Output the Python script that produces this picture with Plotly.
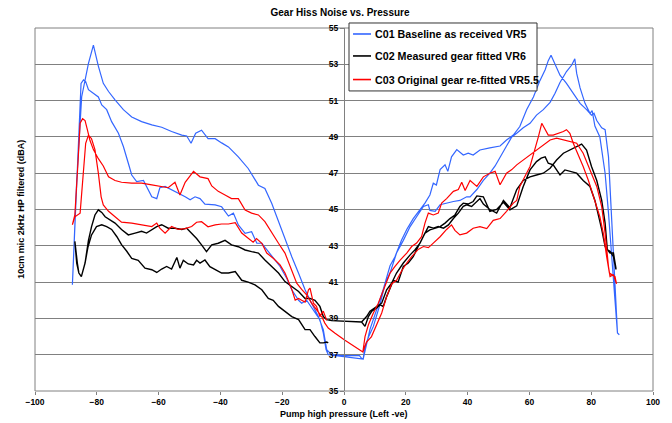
import plotly.graph_objects as go

# ---------------- data ----------------
title_text = "Gear Hiss Noise vs. Pressure"
x_title = "Pump high pressure (Left -ve)"
y_title = "10cm mic 2kHz HP filtered (dBA)"
series_names = ["C01 Baseline as received VR5",
                "C02 Measured gear fitted VR6",
                "C03 Original gear re-fitted VR5.5"]
series_colors = ["#3366FF", "#000000", "#FF0000"]

# C01 (blue)
c01_left_upper_x = [-87.9, -86.5, -84.9, -82.7, -81.1, -79.5, -77.9, -76.2, -74.1, -71.4, -68.7, -65.5, -62.2, -59.0,
                    -55.8, -52.5, -50.9, -49.5, -48.0, -46.1, -44.0, -41.7, -39.6, -37.4, -34.2, -31.0, -27.7, -25.6,
                    -23.4, -21.2, -19.1, -16.9, -14.7, -12.6, -10.5, -8.3, -6.7, -5.6, -4.0, 0.3, 5.0, 5.7, 6.2]
c01_left_upper_y = [40.85, 46.6, 51.2, 53.05, 54.06, 52.9, 51.95, 51.5, 51.04, 50.5, 50.1, 49.84, 49.66, 49.53,
                    49.3, 49.1, 49.05, 48.65, 49.2, 49.37, 48.9, 48.9, 48.67, 48.45, 47.9, 47.26, 46.34, 46.16,
                    45.34, 44.33, 43.32, 42.4, 41.49, 40.58, 39.84, 39.1, 38.38, 37.28, 37.0, 36.95, 36.95, 36.8, 36.76]
c01_right_a_x = [6.2, 8.4, 10.6, 12.7, 14.9, 16.5, 18.6, 20.3, 22.4, 24.6, 26.2, 27.8, 28.9, 29.9, 31.1, 32.7, 33.6,
                 34.8, 36.5, 38.6, 40.2, 41.8, 44.0, 47.2, 50.5, 52.6, 54.8, 56.9, 59.1, 61.3, 63.4, 65.1, 66.1, 67.0,
                 68.3, 69.9, 72.0, 74.2, 76.4, 78.5, 80.1, 80.9, 81.8, 83.4, 84.5, 85.6, 86.3, 87.2, 88.0, 88.5, 89.1]
c01_right_a_y = [36.76, 38.4, 39.5, 40.6, 41.9, 42.4, 43.3, 43.9, 44.5, 45.0, 45.35, 45.8, 46.45, 46.35, 47.2, 47.46,
                 47.1, 47.9, 48.3, 48.0, 48.1, 48.0, 48.28, 48.4, 48.5, 48.83, 49.1, 49.57, 50.5, 51.2, 52.1, 52.7,
                 53.2, 53.5, 53.0, 52.4, 51.95, 51.4, 50.85, 50.5, 50.2, 50.3, 49.9, 49.5, 49.4, 47.9, 45.5, 43.0,
                 40.4, 38.2, 38.1]
c01_right_b_x = [6.2, 6.8, 8.0, 9.5, 11.7, 13.3, 14.9, 17.0, 19.2, 21.4, 23.5, 25.7, 27.3, 27.8, 29.5, 31.1, 33.2,
                 35.4, 37.5, 39.7, 40.8, 43.0, 45.1, 47.2, 48.9, 50.5, 52.6, 54.3, 55.9, 58.0, 60.2, 62.3, 64.5, 66.7,
                 68.3, 69.9, 72.0, 73.7, 74.7, 75.3, 76.4, 78.0, 79.6, 80.3, 81.2, 82.8, 84.5, 85.6, 86.7, 87.7, 88.5]
c01_right_b_y = [36.76, 37.46, 38.0, 38.56, 39.8, 40.9, 41.5, 42.6, 43.3, 44.06, 44.6, 45.17, 45.26, 44.95, 44.9,
                 45.26, 45.35, 45.44, 45.5, 45.7, 45.7, 46.1, 46.6, 47.0, 47.4, 47.9, 48.5, 49.0, 49.2, 49.5, 49.75,
                 50.2, 50.5, 50.9, 51.4, 52.0, 52.6, 52.96, 53.3, 52.5, 51.7, 50.85, 50.3, 50.45, 49.6, 49.0, 47.0,
                 44.8, 42.4, 40.0, 38.2]
c01_left_lower_x = [-87.9, -86.0, -85.1, -84.3, -83.6, -82.7, -81.1, -79.5, -78.4, -76.8, -75.2, -73.0, -71.4, -69.8,
                    -68.7, -67.1, -64.9, -63.9, -62.2, -60.6, -59.6, -57.9, -55.8, -53.6, -51.4, -49.8, -48.2, -46.6,
                    -45.0, -41.7, -39.6, -37.4, -35.8, -34.2, -32.0, -29.9, -28.2, -26.6, -25.0, -22.8, -20.7, -18.5,
                    -16.9, -14.7, -13.7, -12.1, -9.9, -7.8, -6.7, -5.8, -5.1]
c01_left_lower_y = [40.85, 48.47, 51.95, 52.14, 52.05, 51.6, 51.4, 51.2, 50.76, 50.5, 49.84, 49.2, 48.47, 47.55,
                    46.9, 46.54, 46.6, 46.27, 45.7, 45.6, 46.2, 46.27, 46.08, 45.9, 45.7, 45.53, 45.7, 45.6,
                    45.3, 45.25, 45.15, 44.64, 44.8, 44.15, 43.69, 43.78, 43.14, 43.14, 42.77, 42.3, 41.86, 41.2,
                    40.58, 40.0, 39.84, 40.0, 39.48, 38.93, 38.2, 37.28, 37.0]

# C02 (black)
c02_left_lower_x = [-87.1, -86.3, -85.8, -85.0, -83.8, -82.9, -81.7, -80.1, -78.4, -76.8, -75.2, -73.5, -72.0, -70.3,
                    -68.7, -66.6, -64.4, -62.2, -60.6, -59.0, -57.4, -55.8, -54.1, -53.1, -52.0, -50.4, -48.7, -47.7,
                    -46.6, -45.0, -43.4, -41.7, -39.6, -37.4, -35.2, -33.1, -31.0, -28.8, -26.6, -24.5, -22.9, -21.2,
                    -19.1, -16.9, -14.7, -12.6, -11.0, -9.4, -7.8, -6.7, -5.6, -5.1]
c02_left_lower_y = [43.24, 42.05, 41.5, 41.3, 42.05, 42.9, 43.6, 44.06, 44.16, 44.06, 43.9, 43.5, 43.06, 42.7,
                    42.3, 42.2, 41.77, 41.68, 41.53, 41.72, 41.86, 41.72, 42.36, 41.77, 42.2, 42.0, 41.95, 42.2,
                    42.05, 42.22, 41.85, 41.67, 41.5, 41.5, 41.58, 41.1, 41.0, 40.85, 40.58, 40.1, 40.0, 39.66,
                    39.4, 39.1, 38.93, 38.38, 38.38, 38.0, 37.65, 37.65, 37.7, 37.65]
c02_left_upper_x = [-87.1, -86.5, -85.8, -85.0, -83.8, -82.7, -81.7, -80.6, -79.5, -78.4, -77.3, -75.7, -74.1, -72.0,
                    -69.8, -67.6, -65.5, -63.9, -62.2, -60.6, -59.0, -56.9, -54.7, -52.5, -50.9, -49.3, -47.7, -46.1,
                    -44.5, -42.8, -40.7, -38.5, -36.4, -34.2, -32.0, -29.9, -27.7, -25.6, -23.4, -21.2, -19.1, -16.9,
                    -14.7, -12.6, -11.0, -9.4, -7.8, -6.7, -5.6, -4.0, 0.3, 5.7]
c02_left_upper_y = [43.24, 42.05, 41.5, 41.3, 42.05, 43.3, 44.06, 44.7, 44.98, 44.84, 44.6, 44.4, 44.25, 43.9,
                    43.6, 43.7, 43.8, 43.7, 43.9, 44.06, 44.16, 43.97, 43.97, 43.9, 43.97, 43.7, 43.4, 43.05,
                    42.68, 43.05, 43.14, 43.3, 43.05, 42.95, 42.77, 42.68, 42.6, 42.22, 41.86, 41.5, 41.03, 40.76,
                    40.48, 40.1, 40.1, 40.0, 39.66, 39.1, 38.93, 38.88, 38.84, 38.8]
c02_right_a_x = [5.7, 6.8, 7.9, 9.0, 10.6, 11.7, 12.7, 13.8, 14.9, 16.0, 17.5, 19.2, 20.8, 22.4, 24.0, 25.7, 27.3,
                 28.9, 30.5, 32.2, 33.8, 35.4, 37.0, 38.6, 39.7, 41.3, 42.9, 44.0, 45.1, 47.2, 49.4, 51.6, 53.7, 55.9,
                 58.0, 60.2, 62.3, 64.5, 66.7, 68.8, 71.0, 73.1, 75.3, 76.9, 78.5, 80.1, 81.8, 83.4, 84.5, 85.2, 86.1,
                 87.2, 88.0]
c02_right_a_y = [38.8, 38.56, 39.1, 39.4, 39.57, 39.75, 39.66, 40.2, 40.67, 41.1, 41.0, 41.86, 42.05, 42.4, 42.96,
                 43.5, 44.06, 43.97, 44.06, 43.97, 44.15, 44.5, 44.8, 45.17, 45.26, 45.17, 45.44, 45.6, 45.3, 45.0,
                 44.8, 45.5, 45.1, 46.1, 46.6, 46.8, 46.9, 47.0, 47.27, 47.73, 48.1, 48.28, 48.47, 48.6, 48.28, 47.37,
                 46.6, 45.5, 44.25, 42.8, 42.6, 42.6, 41.77]
c02_right_b_x = [5.7, 7.3, 8.4, 10.6, 12.2, 13.8, 15.4, 17.0, 19.2, 21.4, 23.0, 24.6, 26.2, 27.8, 29.5, 31.1, 32.7,
                 34.3, 35.9, 37.5, 38.6, 40.2, 41.8, 43.0, 45.1, 47.2, 49.4, 51.6, 53.7, 55.9, 58.0, 60.2, 62.3, 63.8,
                 65.1, 66.1, 67.7, 69.9, 71.5, 73.1, 75.3, 77.4, 79.6, 81.2, 82.3, 83.4, 84.5, 85.0, 86.1, 87.2, 88.0]
c02_right_b_y = [38.8, 39.1, 39.4, 39.66, 39.84, 40.58, 40.94, 41.5, 42.05, 42.5, 42.78, 43.15, 43.7, 43.88, 43.97,
                 44.06, 44.25, 44.5, 44.7, 45.17, 45.35, 45.3, 45.44, 45.75, 45.7, 44.9, 45.0, 45.4, 44.98, 45.2,
                 46.27, 47.18, 47.64, 47.83, 47.9, 47.55, 47.46, 46.9, 47.18, 47.1, 47.0, 46.6, 46.27, 45.5, 44.8,
                 43.9, 42.96, 42.8, 42.7, 42.4, 41.7]

# C03 (red)
c03_left_upper_x = [-87.9, -87.1, -86.1, -85.4, -84.6, -83.8, -83.2, -82.2, -81.1, -79.5, -77.9, -76.2, -74.1, -72.0,
                    -68.7, -65.5, -62.2, -59.0, -56.9, -54.7, -53.1, -51.4, -48.7, -46.6, -44.0, -42.8, -40.7, -38.5,
                    -36.4, -34.2, -32.0, -29.9, -27.7, -25.6, -23.4, -21.2, -19.1, -16.9, -15.3, -13.7, -12.1, -10.5,
                    -8.9, -7.2, -6.2, -5.1, -3.0, 0.3, 6.1]
c03_left_upper_y = [44.16, 44.7, 47.55, 49.75, 50.0, 49.9, 49.5, 48.8, 48.3, 47.8, 47.4, 46.8, 46.6, 46.5,
                    46.45, 46.45, 46.36, 46.27, 46.2, 46.5, 45.8, 46.5, 47.1, 46.8, 46.7, 46.3, 46.0, 45.8,
                    45.6, 45.6, 44.97, 44.8, 44.7, 44.33, 43.7, 43.14, 42.6, 41.7, 40.94, 40.6, 40.3, 39.84,
                    39.48, 39.1, 38.74, 38.47, 38.2, 37.8, 37.15]
c03_left_lower_x = [-87.9, -87.1, -85.4, -84.3, -83.6, -82.7, -81.7, -80.6, -79.5, -78.6, -77.9, -76.2, -74.1, -72.0,
                    -68.7, -65.5, -62.2, -60.6, -59.6, -57.9, -55.8, -53.6, -51.4, -49.3, -47.7, -46.1, -44.0, -41.7,
                    -39.6, -37.4, -35.2, -33.1, -31.0, -29.4, -28.3, -26.6, -25.0, -22.8, -20.7, -19.1, -16.9, -15.8,
                    -14.7, -13.7, -12.6, -11.5, -11.0, -9.9, -8.9, -7.8, -6.7, -5.6]
c03_left_lower_y = [44.16, 44.6, 44.8, 47.2, 48.65, 49.1, 48.9, 48.3, 47.0, 45.7, 45.25, 44.9, 44.6, 44.3,
                    44.25, 44.16, 44.06, 44.25, 43.97, 43.7, 44.06, 43.9, 43.95, 44.06, 44.3, 44.33, 44.05, 44.15,
                    44.2, 44.2, 44.27, 43.7, 43.4, 43.2, 43.4, 43.14, 42.6, 42.3, 41.95, 41.5, 40.6, 40.0,
                    40.1, 40.0, 39.9, 40.58, 40.67, 39.84, 39.66, 39.1, 39.4, 38.9]
c03_right_upper_x = [6.1, 6.8, 7.9, 9.5, 11.1, 12.7, 14.9, 16.5, 18.1, 20.3, 21.9, 23.5, 25.1, 26.2, 27.3, 28.9, 30.5,
                     31.6, 33.2, 35.4, 37.0, 38.1, 39.2, 40.8, 43.0, 45.1, 47.2, 48.9, 50.5, 52.6, 54.3, 55.9, 58.0,
                     60.2, 62.3, 64.5, 66.7, 68.8, 71.0, 73.1, 75.3, 77.4, 79.6, 81.8, 83.4, 84.5, 85.6, 86.1, 87.2,
                     88.2]
c03_right_upper_y = [37.15, 38.0, 38.65, 39.3, 39.84, 40.58, 41.5, 41.86, 42.2, 42.6, 42.96, 43.15, 43.5, 44.25,
                     44.8, 44.7, 44.8, 45.35, 45.6, 46.0, 46.1, 46.5, 46.05, 46.6, 46.27, 46.8, 47.0, 47.1, 46.36,
                     47.0, 47.2, 47.46, 47.73, 48.0, 48.3, 48.56, 48.83, 48.93, 48.83, 48.74, 48.65, 48.1, 47.2,
                     46.27, 45.16, 43.7, 41.86, 41.3, 41.4, 40.9]
c03_right_lower_x = [6.1, 7.3, 8.9, 10.6, 12.2, 13.8, 15.4, 17.0, 18.6, 20.3, 21.9, 24.0, 25.7, 27.3, 28.9, 31.1, 33.2,
                     34.8, 35.9, 37.5, 39.7, 41.8, 44.0, 46.2, 48.3, 50.5, 52.6, 54.8, 55.9, 56.9, 58.5, 60.2, 61.8,
                     62.9, 64.0, 65.1, 66.1, 67.7, 69.4, 71.0, 72.0, 73.1, 74.2, 75.8, 77.4, 79.1, 80.7, 81.8, 82.8,
                     83.9, 85.0, 85.9, 86.7, 87.7, 88.2]
c03_right_lower_y = [37.15, 37.7, 38.0, 38.65, 39.3, 40.2, 40.9, 41.1, 41.6, 42.05, 42.4, 42.8, 42.96, 42.9, 43.15,
                     43.5, 43.9, 44.15, 43.85, 43.6, 43.7, 43.97, 44.06, 43.95, 44.4, 44.5, 44.9, 45.35, 45.5, 46.27,
                     46.8, 47.37, 48.3, 49.0, 49.75, 49.4, 49.1, 49.1, 49.2, 49.3, 49.4, 49.2, 48.65, 48.0, 47.37,
                     46.6, 45.7, 45.16, 44.6, 43.7, 42.4, 41.5, 41.4, 41.3, 40.9]

x_ticks = [-100, -80, -60, -40, -20, 0, 20, 40, 60, 80, 100]
y_ticks = [35, 37, 39, 41, 43, 45, 47, 49, 51, 53, 55]

# ---------------- assemble sweep paths ----------------
def rev(a):
    return list(reversed(a))

c01_x = c01_left_upper_x + c01_right_a_x + rev(c01_right_b_x) + rev(c01_left_lower_x)
c01_y = c01_left_upper_y + c01_right_a_y + rev(c01_right_b_y) + rev(c01_left_lower_y)
c02_x = rev(c02_left_lower_x) + c02_left_upper_x + c02_right_a_x + rev(c02_right_b_x)
c02_y = rev(c02_left_lower_y) + c02_left_upper_y + c02_right_a_y + rev(c02_right_b_y)
c03_x = rev(c03_left_lower_x) + c03_left_upper_x + c03_right_upper_x + rev(c03_right_lower_x)
c03_y = rev(c03_left_lower_y) + c03_left_upper_y + c03_right_upper_y + rev(c03_right_lower_y)

FONT = "Liberation Sans, Arial, sans-serif"
GRID = "#808080"

fig = go.Figure()
widths = [1.2, 1.4, 1.2]
for name, xs, ys, col, w in zip(series_names, [c01_x, c02_x, c03_x], [c01_y, c02_y, c03_y],
                                series_colors, widths):
    fig.add_trace(go.Scatter(x=xs, y=ys, mode="lines", name=name, showlegend=False,
                             line=dict(color=col, width=w)))

# boxed legend drawn in paper coordinates (short line samples like the original)
leg_rows = [0.9835, 0.923, 0.858]
shapes = [dict(type="rect", xref="paper", yref="paper", x0=0, y0=0, x1=1, y1=1,
               line=dict(color=GRID, width=1), layer="below"),
          dict(type="rect", xref="paper", yref="paper", x0=0.5081, x1=0.8123, y0=0.8266, y1=1.0138,
               line=dict(color="#333333", width=1), fillcolor="white", layer="above")]
annotations = [
    dict(text=x_title, xref="paper", yref="paper", x=0.5, y=-0.0635, xanchor="center", yanchor="middle",
         showarrow=False, font=dict(size=9, weight="bold")),
    dict(text=y_title, xref="paper", yref="paper", x=-0.024, y=0.5, xanchor="center", yanchor="middle",
         textangle=-90, showarrow=False, font=dict(size=9, weight="bold")),
]
for name, col, yy in zip(series_names, series_colors, leg_rows):
    shapes.append(dict(type="line", xref="paper", yref="paper", x0=0.5146, x1=0.5437, y0=yy, y1=yy,
                       line=dict(color=col, width=1.6), layer="above"))
    annotations.append(dict(text=name, xref="paper", yref="paper", x=0.5475, y=yy, xanchor="left",
                            yanchor="middle", showarrow=False,
                            font=dict(size=10.7, weight="bold", family=FONT)))

fig.update_layout(
    width=672, height=423,
    margin=dict(l=35, r=19, t=28, b=32),
    paper_bgcolor="white", plot_bgcolor="white",
    font=dict(family=FONT, color="black"),
    showlegend=False,
    title=dict(text=title_text, x=0.506, xanchor="center", y=1 - 12 / 423, yanchor="middle",
               font=dict(size=10, weight="bold", family=FONT)),
    xaxis=dict(range=[-100, 100], tickvals=x_ticks, showgrid=False, zeroline=False,
               showline=False, ticks="outside", ticklen=3, tickcolor=GRID,
               tickfont=dict(size=8.5, weight="bold")),
    yaxis=dict(range=[35, 55], tickvals=y_ticks, anchor="free", position=0.5,
               showgrid=True, gridcolor=GRID, gridwidth=1, zeroline=False,
               showline=True, linecolor=GRID, linewidth=1,
               ticks="outside", ticklen=4, tickcolor=GRID,
               tickfont=dict(size=8.5, weight="bold")),
    shapes=shapes,
    annotations=annotations,
)

fig.write_html("out.html", config={"displayModeBar": False},
               post_script="document.body.style.margin='0px';")
